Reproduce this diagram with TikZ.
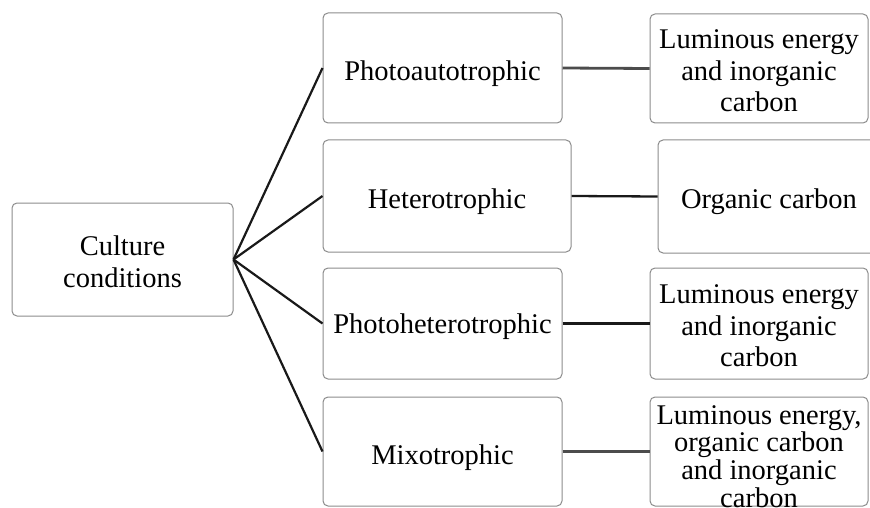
\documentclass[tikz,border=0pt]{standalone}
\usepackage{fontspec}
\setmainfont{Liberation Serif}
\begin{document}
\begin{tikzpicture}[x=1pt,y=-1pt,
  box/.style={draw=black!45, line width=1pt, rounded corners=5pt, rectangle, inner sep=0pt},
  txt/.style={inner sep=0pt, align=center, font=\fontsize{28.5}{31.5}\selectfont},
  fan/.style={draw=black!90, line width=2.2pt},
  link/.style={draw=black!70, line width=2.8pt}]
\useasboundingbox (0,0) rectangle (870,508);
\fill[white] (0,0) rectangle (870,508);

\node[box, minimum width=221pt, minimum height=113pt] (cc) at (122.5,259.5) {};
\node[box, minimum width=239pt, minimum height=110pt] (b1) at (442.5,68) {};
\node[box, minimum width=248pt, minimum height=112pt] (b2) at (447,196) {};
\node[box, minimum width=239pt, minimum height=111pt] (b3) at (442.5,323.5) {};
\node[box, minimum width=239pt, minimum height=109pt] (b4) at (442.5,451.5) {};
\node[box, minimum width=218pt, minimum height=109pt] (r1) at (759,68.5) {};
\node[box, minimum width=222pt, minimum height=113pt] (r2) at (769,196.5) {};
\node[box, minimum width=218pt, minimum height=111pt] (r3) at (759,323.5) {};
\node[box, minimum width=218pt, minimum height=109pt] (r4) at (759,451.5) {};

\node[txt] (cct) at ([yshift=-2pt]cc.center) {Culture\\conditions};
\node[txt] (b1t) at ([yshift=-6pt]b1.center) {Photoautotrophic};
\node[txt] (b2t) at ([yshift=-6pt]b2.center) {Heterotrophic};
\node[txt] (b3t) at ([yshift=-3pt]b3.center) {Photoheterotrophic};
\node[txt] (b4t) at ([yshift=-6pt]b4.center) {Mixotrophic};
\node[txt] (r1t) at ([yshift=-2.5pt]r1.center) {Luminous energy\\and inorganic\\carbon};
\node[txt] (r2t) at ([yshift=-5pt]r2.center) {Organic carbon};
\node[txt] (r3t) at ([yshift=-2.5pt]r3.center) {Luminous energy\\and inorganic\\carbon};
\node[txt, font=\fontsize{28.5}{27.8}\selectfont] (r4t) at ([yshift=-5pt]r4.center) {Luminous energy,\\organic carbon\\and inorganic\\carbon};

\draw[fan] (cc.east) -- (b1.west);
\draw[fan] (cc.east) -- (b2.west);
\draw[fan] (cc.east) -- (b3.west);
\draw[fan] (cc.east) -- (b4.west);

\draw[link] (b1.east) -- (r1.west);
\draw[link, draw=black!90, line width=2.3pt] (b2.east) -- (r2.west);
\draw[link, draw=black!90, line width=2.3pt] (b3.east) -- (r3.west);
\draw[link] (b4.east) -- (r4.west);
\end{tikzpicture}
\end{document}
